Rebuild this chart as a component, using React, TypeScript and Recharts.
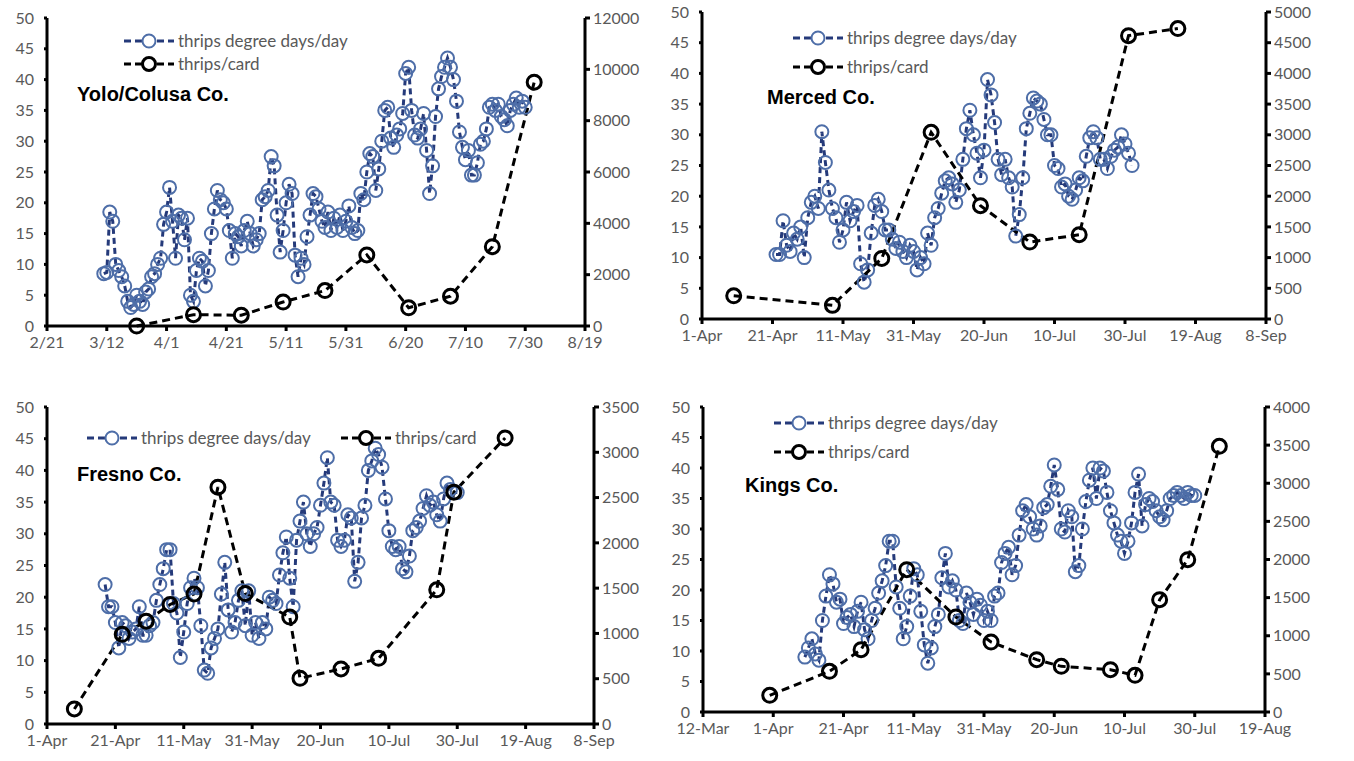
import React from 'react'
import { LineChart, Line, XAxis, YAxis } from 'recharts'

// ---- Yolo/Colusa ----
const yoloLabels = ['2/21', '3/12', '4/1', '4/21', '5/11', '5/31', '6/20', '7/10', '7/30', '8/19']
const yoloStart = 19
const yoloDegreeDays = [
  8.5, 8.7, 18.5, 17, 10, 9, 8, 6.5, 4, 3,
  3.5, 5, 4, 3.5, 5.5, 6, 8, 8.5, 10, 11,
  16.5, 18.5, 22.5, 17, 11, 18, 17.5, 14, 17.5, 5,
  4, 9, 11, 10.5, 6.5, 9, 15, 19, 22, 20.5,
  20, 19, 15.5, 11, 15, 14.5, 13, 15.5, 17, 15,
  13, 14, 15, 20.5, 21, 22, 27.5, 26, 18, 12,
  15.5, 20, 23, 21.5, 11.5, 8, 11, 10, 14.5, 18,
  21.5, 21, 19, 17, 16, 18.5, 15.5, 17.5, 16, 18,
  15.5, 17, 19.5, 16, 15, 15.5, 21.5, 20.5, 25, 28,
  27.5, 22, 25.5, 30, 35, 35.5, 30.5, 29, 31, 32,
  34.5, 41, 42, 35, 31, 30.5, 32, 34.5, 28.5, 21.5,
  26, 34, 38.5, 40.5, 42, 43.5, 42, 40, 36.5, 31.5,
  29, 27, 28.5, 24.5, 24.5, 26.5, 29.5, 30, 32, 35.5,
  36, 35, 36, 34, 33.5, 32.5, 35, 36, 37, 35.5, 36.5, 35.5,
]
const yoloCardDays = [30, 49, 65, 79, 93, 107, 121, 135, 149, 163]
const yoloCard = [0, 440, 420, 935, 1380, 2770, 710, 1160, 3090, 9500]

// ---- Merced ----
const mercedLabels = ['1-Apr', '21-Apr', '11-May', '31-May', '20-Jun', '10-Jul', '30-Jul', '19-Aug', '8-Sep']
const mercedStart = 21
const mercedDegreeDays = [
  10.5, 10.5, 16, 12, 11, 14, 13, 15, 10, 16.5,
  19, 20, 18, 30.5, 25.5, 21, 18, 16.5, 12.5, 14.5,
  19, 16, 17.5, 18.5, 9, 6, 8, 14, 18.5, 19.5,
  17.5, 14.5, 14.5, 13, 11.5, 12.5, 11, 10, 12, 11,
  8, 10, 9, 14, 12, 16.5, 18, 20.5, 22.5, 23,
  22, 19, 21, 26, 31, 34, 30, 27, 23, 27.5,
  39, 36.5, 32, 26, 23.5, 26, 23, 21.5, 13.5, 17,
  23, 31, 33.5, 36, 35.5, 35, 32.5, 30, 30, 25,
  24.5, 21.5, 22, 20, 19.5, 21, 23, 22.5, 26.5, 29.5,
  30.5, 29.5, 26, 26, 24.5, 26.5, 27.5, 28, 30, 28.5,
  27, 25,
]
const mercedCardDays = [9, 37, 51, 65, 79, 93, 107, 121, 135]
const mercedCard = [378, 222, 987, 3040, 1846, 1253, 1373, 4615, 4730]

// ---- Fresno ----
const fresnoLabels = ['1-Apr', '21-Apr', '11-May', '31-May', '20-Jun', '10-Jul', '30-Jul', '19-Aug', '8-Sep']
const fresnoStart = 17
const fresnoDegreeDays = [
  22, 18.5, 18.5, 16, 12, 16, 15.5, 13.5, 14.5, 15,
  18.5, 14, 14, 15.5, 16, 19.5, 22, 24.5, 27.5, 27.5,
  19, 17.5, 10.5, 14.5, 19, 21.5, 23, 21.5, 15.5, 8.5,
  8, 12, 13.5, 15, 20.5, 25.5, 18, 14.5, 16, 19.5,
  21, 15.5, 21, 14, 16, 13.5, 16,
  15, 20, 19.5, 19, 23.5, 27, 29.5, 23, 18.5,
  29, 32, 35, 30, 28, 30, 31, 34.5, 38, 42,
  35, 34.5, 29, 28, 29, 33, 32.5, 22.5, 25.5, 32.5,
  34.5, 40, 41.5, 43.5, 42.5, 40.5, 35.5, 30.5, 28, 27.5,
  28, 24.5, 24, 26.5, 30.5, 31, 32, 34, 36, 34.5,
  35, 33, 32, 35.5, 38, 37, 36.5, 36.5,
]
const fresnoCardDays = [8, 22, 29, 36, 43, 50, 58, 71, 74, 86, 97, 114, 119, 134]
const fresnoCard = [166, 990, 1135, 1320, 1435, 2615, 1440, 1181, 505, 608, 725, 1482, 2560, 3158]

// ---- Kings ----
const kingsLabels = ['12-Mar', '1-Apr', '21-Apr', '11-May', '31-May', '20-Jun', '10-Jul', '30-Jul', '19-Aug']
const kingsStart = 29
const kingsDegreeDays = [
  9, 10.5, 12, 9.5, 8.5, 15, 19, 22.5, 21, 18,
  18.5, 14.5, 15.5, 16, 14, 16.5, 18, 13.5, 12, 15,
  17, 19.5, 21.5, 24, 28, 28, 20.5, 17, 12, 14,
  19, 23.5, 22.5, 16.5, 11, 8, 10.5, 14, 16, 22,
  26, 20.5, 21.5, 20, 15, 14.5, 19.5, 18, 16, 18.5,
  17.5, 15, 16.5, 15, 19, 19.5, 24.5, 26, 27, 22.5,
  24, 29, 33, 34, 32, 30, 29, 30.5, 33.5, 34,
  37, 40.5, 36.5, 30, 29.5, 33, 32, 23, 24, 30,
  34.5, 38, 40, 35, 40, 39.5, 36, 33, 31, 29,
  28, 26, 28, 31, 36, 39, 30.5, 34, 35, 34.5,
  33, 32, 31.5, 33, 35, 35.5, 36, 35.5, 35, 36,
  35.5, 35.5,
]
const kingsCardDays = [19, 36, 45, 58, 72, 82, 95, 102, 116, 123, 130, 138, 147]
const kingsCard = [219, 533, 817, 1867, 1246, 918, 686, 599, 555, 481, 1473, 1998, 3484]

const FONT = 'Lato, "Open Sans", sans-serif'
const GRAY = '#595959'
const DD_LINE = '#253a7a'
const DD_DOT = '#4e6ea8'

const range = (max: number, step: number) => {
  const out: number[] = []
  for (let v = 0; v <= max; v += step) out.push(v)
  return out
}

interface PanelProps {
  left: number
  top: number
  x0: number
  x1: number
  y0: number
  y1: number
  labels: string[]
  start: number
  degreeDays: number[]
  cardDays: number[]
  card: number[]
  rightMax: number
  rightStep: number
  title: string
  titleX: number
  titleY: number
  legend: { x: number; y1: number; y2: number; inline?: boolean }
}

const Sample = ({ color, dot, w }: { color: string; dot: string; w: number }) => (
  <svg width={w} height={18} style={{ display: 'block' }}>
    <line x1={1} y1={9} x2={w - 1} y2={9} stroke={color} strokeWidth={3} strokeDasharray="7 4" />
    <circle cx={w / 2} cy={9} r={6.5} stroke={dot} strokeWidth={color === '#000' ? 3 : 2} fill="#fff" />
  </svg>
)

const LegendRow = ({ x, y, color, dot, text }: { x: number; y: number; color: string; dot: string; text: string }) => (
  <div style={{ position: 'absolute', left: x, top: y - 10, display: 'flex', alignItems: 'center', whiteSpace: 'nowrap' }}>
    <Sample color={color} dot={dot} w={52} />
    <span style={{ marginLeft: 3, fontFamily: FONT, fontSize: 17, color: GRAY, lineHeight: '20px' }}>{text}</span>
  </div>
)

const Panel = (p: PanelProps) => {
  const rightW = 62
  const width = p.x1 - p.left + rightW + 5
  const height = p.y1 - p.top + 36
  const xMax = (p.labels.length - 1) * 20
  const daily = p.degreeDays.map((v, i) => ({ day: p.start + i, v }))
  const cards = p.cardDays.map((d, i) => ({ day: d, v: p.card[i] }))
  const tick = { fill: GRAY, fontSize: 16, fontFamily: FONT }
  const axisLine = { stroke: '#000', strokeWidth: 3 }
  return (
    <>
      <div style={{ position: 'absolute', left: p.left, top: p.top }}>
        <LineChart width={width} height={height} margin={{ top: p.y0 - p.top, right: 5, bottom: 0, left: 0 }}>
          <XAxis
            type="number"
            dataKey="day"
            domain={[0, xMax]}
            ticks={p.labels.map((_, i) => i * 20)}
            tickFormatter={(d: number) => p.labels[Math.round(d / 20)]}
            interval={0}
            allowDataOverflow
            height={36}
            tick={tick}
            axisLine={axisLine}
            tickLine={axisLine}
            tickSize={5}
            tickMargin={6}
          />
          <YAxis
            yAxisId="l"
            domain={[0, 50]}
            ticks={range(50, 5)}
            interval={0}
            width={p.x0 - p.left}
            tick={tick}
            axisLine={axisLine}
            tickLine={axisLine}
            tickSize={3}
            tickMargin={10}
          />
          <YAxis
            yAxisId="r"
            orientation="right"
            domain={[0, p.rightMax]}
            ticks={range(p.rightMax, p.rightStep)}
            interval={0}
            width={rightW}
            tick={tick}
            axisLine={axisLine}
            tickLine={axisLine}
            tickSize={5}
            tickMargin={3}
          />
          <Line
            yAxisId="l"
            data={daily}
            dataKey="v"
            stroke={DD_LINE}
            strokeWidth={3}
            strokeDasharray="6 4"
            dot={{ r: 6.5, stroke: DD_DOT, strokeWidth: 2, fill: 'none', strokeDasharray: 'none' }}
            isAnimationActive={false}
          />
          <Line
            yAxisId="r"
            data={cards}
            dataKey="v"
            stroke="#000"
            strokeWidth={3}
            strokeDasharray="8 5"
            dot={{ r: 7, stroke: '#000', strokeWidth: 3, fill: 'none', strokeDasharray: 'none' }}
            isAnimationActive={false}
          />
        </LineChart>
      </div>
      <div
        style={{
          position: 'absolute',
          left: p.titleX,
          top: p.titleY - 12,
          fontFamily: '"Liberation Sans", Arial, sans-serif',
          fontWeight: 'bold',
          fontSize: 20,
          lineHeight: '24px',
          whiteSpace: 'nowrap',
        }}
      >
        {p.title}
      </div>
      <LegendRow x={p.legend.x} y={p.legend.y1} color={DD_LINE} dot={DD_DOT} text="thrips degree days/day" />
      {p.legend.inline ? (
        <LegendRow x={p.legend.y2} y={p.legend.y1} color="#000" dot="#000" text="thrips/card" />
      ) : (
        <LegendRow x={p.legend.x} y={p.legend.y2} color="#000" dot="#000" text="thrips/card" />
      )}
    </>
  )
}

const App = () => (
  <div style={{ position: 'absolute', left: 0, top: 0, width: 1354, height: 761, background: '#fff' }}>
    <Panel
      left={0} top={0} x0={47} x1={585} y0={18} y1={326}
      labels={yoloLabels} start={yoloStart} degreeDays={yoloDegreeDays}
      cardDays={yoloCardDays} card={yoloCard} rightMax={12000} rightStep={2000}
      title="Yolo/Colusa Co." titleX={77} titleY={94}
      legend={{ x: 123, y1: 41, y2: 64 }}
    />
    <Panel
      left={655} top={0} x0={702} x1={1266} y0={12} y1={319}
      labels={mercedLabels} start={mercedStart} degreeDays={mercedDegreeDays}
      cardDays={mercedCardDays} card={mercedCard} rightMax={5000} rightStep={500}
      title="Merced Co." titleX={767} titleY={97}
      legend={{ x: 792, y1: 38, y2: 67 }}
    />
    <Panel
      left={0} top={390} x0={47} x1={594} y0={407} y1={724}
      labels={fresnoLabels} start={fresnoStart} degreeDays={fresnoDegreeDays}
      cardDays={fresnoCardDays} card={fresnoCard} rightMax={3500} rightStep={500}
      title="Fresno Co." titleX={77} titleY={474}
      legend={{ x: 86, y1: 438, y2: 340, inline: true }}
    />
    <Panel
      left={655} top={390} x0={703} x1={1265} y0={407} y1={712}
      labels={kingsLabels} start={kingsStart} degreeDays={kingsDegreeDays}
      cardDays={kingsCardDays} card={kingsCard} rightMax={4000} rightStep={500}
      title="Kings Co." titleX={745} titleY={485}
      legend={{ x: 773, y1: 423, y2: 452 }}
    />
  </div>
)

export default App
